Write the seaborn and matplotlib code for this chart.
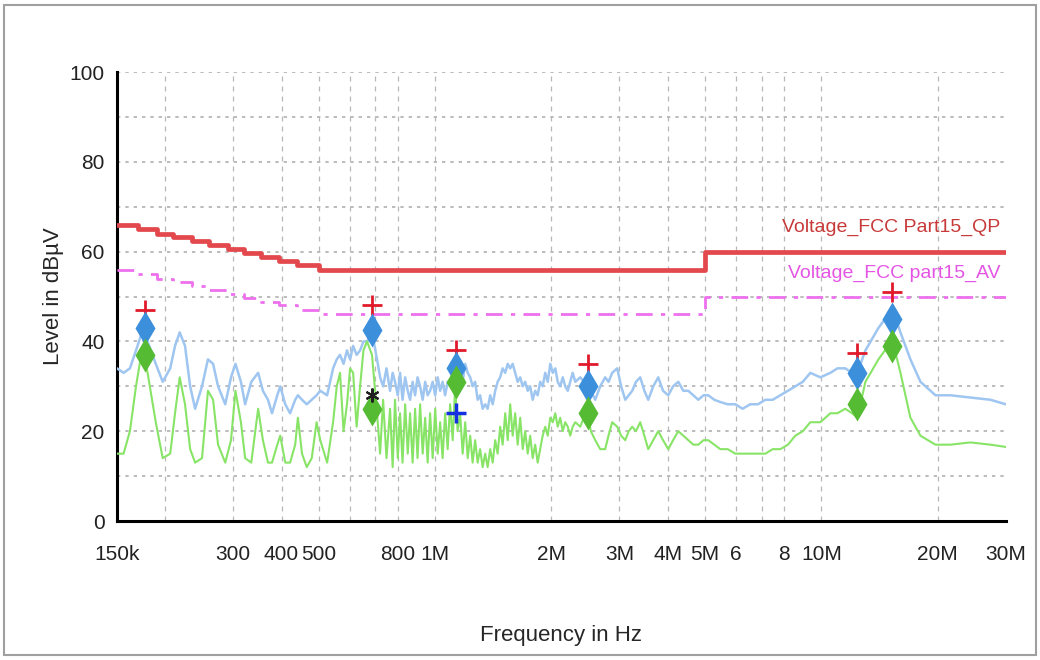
import numpy as np
import pandas as pd
import matplotlib
matplotlib.use("Agg")
import matplotlib.pyplot as plt
import seaborn as sns
from matplotlib.patches import Rectangle

# frequencies in MHz, levels in dBuV
freq_mhz = [
    0.150, 0.156, 0.162, 0.168, 0.174, 0.180, 0.189, 0.197, 0.206, 0.212,
    0.218, 0.225, 0.232, 0.239, 0.249, 0.258, 0.266, 0.274, 0.286, 0.296,
    0.304, 0.314, 0.322, 0.334, 0.348, 0.358, 0.369, 0.378, 0.390, 0.397,
    0.409, 0.421, 0.434, 0.441, 0.452, 0.465, 0.479, 0.493, 0.504,
    0.525, 0.544, 0.556, 0.567, 0.579, 0.591, 0.602, 0.613, 0.626, 0.639,
    0.652, 0.666, 0.686, 0.707, 0.720, 0.733, 0.748, 0.764, 0.776, 0.787,
    0.800, 0.811, 0.823, 0.836, 0.849, 0.861, 0.874, 0.887, 0.900, 0.914,
    0.928, 0.942, 0.956, 0.970, 0.985, 1.000, 1.015, 1.030, 1.045, 1.061,
    1.077, 1.093, 1.110, 1.126, 1.143, 1.160, 1.178, 1.196, 1.214, 1.232,
    1.250, 1.269, 1.288, 1.307, 1.327, 1.347, 1.367, 1.388, 1.409, 1.430,
    1.451, 1.473, 1.495, 1.518, 1.541, 1.564, 1.587, 1.611, 1.635, 1.660,
    1.685, 1.710, 1.736, 1.762, 1.788, 1.815, 1.842, 1.870, 1.898, 1.927,
    1.956, 1.986, 2.016, 2.046, 2.076, 2.107, 2.139, 2.171, 2.204, 2.237,
    2.270, 2.305, 2.375, 2.425, 2.476, 2.530, 2.596, 2.675, 2.755, 2.810,
    2.873, 2.960, 3.030, 3.105, 3.170, 3.237, 3.310, 3.395, 3.480, 3.561,
    3.670, 3.780, 3.890, 4.013, 4.130, 4.260, 4.390, 4.522, 4.660, 4.800,
    4.950, 5.095, 5.280, 5.473, 5.720, 5.984, 6.250, 6.546, 6.850, 7.158,
    7.480, 7.829, 8.190, 8.561, 8.950, 9.361, 9.936, 10.55, 11.00, 11.53,
    12.00, 12.39, 13.00, 14.05, 14.60, 15.18, 15.60, 16.02, 16.50, 17.00,
    18.05, 19.74, 21.58, 24.31, 27.40, 30.00,
]
peak_level = [
    34, 33, 34, 38, 42, 40, 35, 31, 34, 39,
    42, 39, 30, 25, 30, 36, 35, 30, 26, 32,
    35, 31, 26, 31, 33, 29, 27, 24, 28, 30,
    26, 24, 27, 28, 27, 26, 27, 28, 29,
    28, 34, 36, 37, 35, 38, 36, 39, 37, 38,
    40, 40, 42, 36, 32, 30, 34, 29, 33, 31,
    28, 33, 27, 32, 29, 27, 31, 28, 32, 30,
    27, 31, 28, 29, 31, 28, 32, 29, 31, 28,
    31, 30, 33, 34, 33, 34, 31, 35, 33, 32,
    30, 31, 27, 28, 25, 26, 25, 28, 26, 29,
    31, 32, 34, 33, 35, 34, 35, 33, 31, 32,
    30, 31, 29, 30, 27, 29, 28, 31, 30, 33,
    31, 35, 33, 34, 31, 30, 32, 30, 29, 31,
    33, 31, 32, 31, 30, 29, 27, 30, 32, 31,
    33, 34, 30, 27, 28, 29, 31, 32, 29, 27,
    30, 32, 29, 28, 30, 31, 29, 29, 28, 27,
    28, 28, 27, 26.5, 26, 26, 25, 26, 26, 27,
    27, 28, 29, 30, 31, 33, 32, 33, 34, 34,
    33, 33, 38, 43, 45, 47, 45, 42, 39, 36,
    31, 28, 28, 27.5, 27, 26,
]
avg_level = [
    15, 15, 20, 30, 38, 33, 22, 14, 15, 24,
    32, 26, 16, 13, 14, 29, 27, 17, 13, 18,
    29, 22, 14, 13, 25, 18, 13, 13, 17, 19,
    13, 13, 17, 23, 15, 12, 14, 22, 18,
    13, 22, 30, 33, 20, 26, 34, 33, 21, 30,
    38, 40, 37, 24, 15, 27, 14, 25, 12, 27,
    14, 24, 13, 26, 15, 24, 13, 25, 14, 26,
    15, 23, 13, 24, 14, 25, 15, 22, 14, 24,
    16, 26, 18, 30, 20, 24, 15, 22, 14, 19,
    13, 18, 13, 16, 12, 15, 12, 16, 13, 18,
    15, 21, 17, 24, 18, 26, 19, 24, 17, 23,
    16, 20, 15, 19, 14, 17, 13, 16, 19, 21,
    19, 23, 22, 24, 21, 23, 20, 22, 21, 19,
    21, 22, 21, 23, 24, 20, 18, 16, 16, 19,
    22, 21, 19, 18, 20, 21, 20, 22, 19, 16,
    18, 20, 18, 16, 18, 20, 19, 18, 17, 17,
    18, 18, 17, 16, 16, 15, 15, 15, 15, 15,
    16, 16, 17, 19, 20, 22, 22, 24, 24, 25,
    24, 23, 31, 36, 38, 40, 37, 33, 28, 23,
    19, 17, 17, 17.5, 17, 16.5,
]

# limit lines
qp_freq = [0.150, 0.170, 0.190, 0.210, 0.235, 0.260, 0.290, 0.320, 0.355, 0.395, 0.440, 0.500, 5.0, 30.0]
qp_limit = [66, 65, 64, 63.2, 62.3, 61.4, 60.5, 59.7, 58.8, 58.0, 57.1, 56, 60, 60]
av_freq = [0.150, 0.170, 0.190, 0.210, 0.235, 0.260, 0.290, 0.320, 0.355, 0.395, 0.440, 0.500, 5.0, 30.0]
av_limit = [56, 55, 54, 53.2, 52.3, 51.4, 50.5, 49.7, 48.8, 48.0, 47.1, 46, 50, 50]

# final measurement markers
mk_freq = [0.177, 0.687, 1.13, 2.48, 12.4, 15.2]
mk_qp = [47, 48, 38, 35, 37.5, 51]
mk_peak = [43, 42.5, 34, 30, 33, 45]
mk_avg = [37, 25, 31, 24, 26, 39]
extra_black = (0.687, 28)
extra_blue = (1.13, 24)

tick_pos = [0.15, 0.2, 0.3, 0.4, 0.5, 0.6, 0.7, 0.8, 1, 2, 3, 4, 5, 6, 7, 8, 10, 20, 30]
tick_lab = ["150k", "", "300", "400", "500", "", "", "800", "1M", "2M", "3M", "4M", "5M",
            "6", "", "8", "10M", "20M", "30M"]

sns.set_style("white")
plt.rcParams['font.family'] = ['Liberation Sans', 'DejaVu Sans']

fig = plt.figure(figsize=(10.4, 6.6), dpi=100)
ax = fig.add_axes([0.1125, 0.2106, 0.8545, 0.6803])

trace = pd.DataFrame({"f": freq_mhz, "pk": peak_level, "av": avg_level})
sns.lineplot(data=trace, x="f", y="pk", ax=ax, color="#9fc6f0", lw=1.8, sort=False, zorder=3)
sns.lineplot(data=trace, x="f", y="av", ax=ax, color="#88e466", lw=1.5, sort=False, zorder=3)

ax.plot(qp_freq, qp_limit, drawstyle="steps-post", color="#e2484c", lw=3.4, zorder=4)
ax.plot(av_freq, av_limit, drawstyle="steps-post", color="#ee70ee", lw=2,
        linestyle=(0, (6, 3, 1.5, 3)), zorder=4)

ax.plot(mk_freq, mk_qp, ls="none", marker="+", ms=15, mew=2, color="#e01a2a", zorder=6)
ax.plot(mk_freq, mk_peak, ls="none", marker="d", ms=17, color="#3c8fdb", mec="none", zorder=7)
ax.plot(mk_freq, mk_avg, ls="none", marker="d", ms=17, color="#55bb33", mec="none", zorder=7)
ax.plot(*extra_black, ls="none", marker=(6, 2, 0), ms=10, mew=1.5, color="#202020", zorder=8)
ax.plot(*extra_blue, ls="none", marker="+", ms=15, mew=2.5, color="#1530e0", zorder=8)

ax.text(29.1, 65.5, "Voltage_FCC Part15_QP", color="#c83a3a", fontsize=14, ha="right", va="center")
ax.text(29.1, 55.2, "Voltage_FCC part15_AV", color="#e455e4", fontsize=14, ha="right", va="center")

ax.set_xscale("log")
ax.set_xlim(0.15, 30)
ax.set_ylim(0, 100)
ax.set_xticks(tick_pos)
ax.set_xticklabels(tick_lab)
ax.xaxis.set_minor_locator(matplotlib.ticker.NullLocator())
ax.set_yticks(range(0, 101, 10))
ax.set_yticklabels([str(v) if v % 20 == 0 else "" for v in range(0, 101, 10)])
ax.tick_params(axis="both", direction="inout", length=14, width=2, labelsize=15, color="black",
               labelcolor="#222222")
ax.tick_params(axis="x", pad=10)
ax.tick_params(axis="y", pad=2)

for y in range(10, 101, 10):
    ax.axhline(y, color="#b0b0b0", lw=1.2, ls=(0, (2, 3)), zorder=1)
for x in tick_pos[1:-1]:
    ax.axvline(x, color="#b8b8b8", lw=0.9, ls=(0, (4, 4)), zorder=1)

for side in ["top", "right"]:
    ax.spines[side].set_visible(False)
for side in ["left", "bottom"]:
    ax.spines[side].set_linewidth(2.2)
    ax.spines[side].set_color("black")

ax.set_xlabel("Frequency in Hz", fontsize=16, labelpad=44)
ax.set_ylabel("Level in dBµV", fontsize=16, labelpad=4)

fig.patches.append(Rectangle((0.004, 0.008), 0.992, 0.985, transform=fig.transFigure,
                             fill=False, edgecolor="#a0a0a0", lw=1.5))

fig.savefig("out.png", dpi=100)
